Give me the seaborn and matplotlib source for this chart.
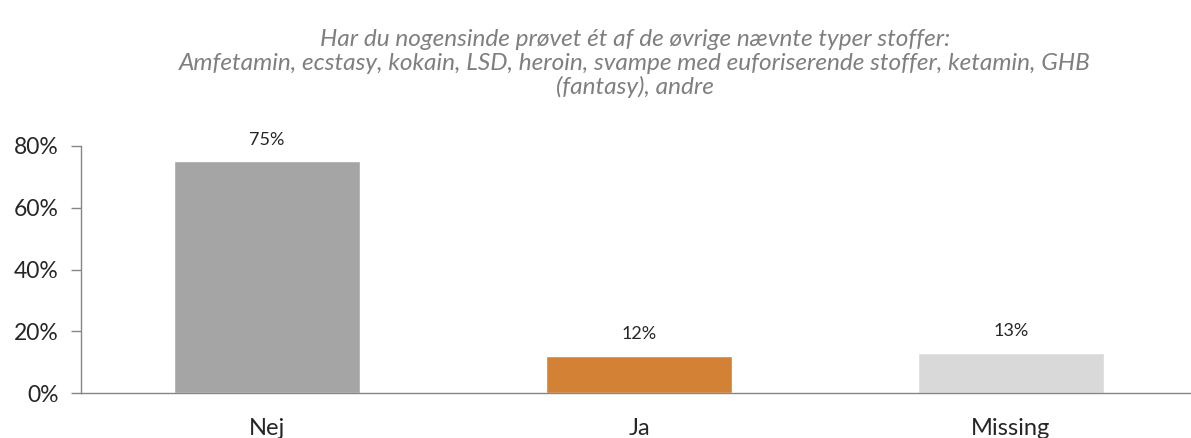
import matplotlib
matplotlib.use("Agg")
import matplotlib.pyplot as plt
import seaborn as sns
import pandas as pd
from matplotlib.ticker import PercentFormatter, FixedLocator

categories = ["Nej", "Ja", "Missing"]
shares = [0.75, 0.12, 0.13]
labels = ["75%", "12%", "13%"]
colors = ["#A5A5A5", "#D38235", "#D9D9D9"]
title_lines = [
    "Har du nogensinde prøvet ét af de øvrige nævnte typer stoffer:",
    "Amfetamin, ecstasy, kokain, LSD, heroin, svampe med euforiserende stoffer, ketamin, GHB",
    "(fantasy), andre",
]

df = pd.DataFrame({"kategori": categories, "andel": shares})

sns.set_style("white")
plt.rcParams["font.family"] = ["Lato", "DejaVu Sans"]

fig = plt.figure(figsize=(11.91, 4.38), dpi=100)
ax = fig.add_axes([81 / 1191, 1 - 393 / 438, 1116 / 1191, 247 / 438])

sns.barplot(data=df, x="kategori", y="andel", hue="kategori", palette=colors,
            width=0.5, legend=False, ax=ax, saturation=1)

for i, (v, lab) in enumerate(zip(shares, labels)):
    ax.text(i, v + 0.045, lab, ha="center", va="bottom", fontsize=13)

ax.set_xlim(-0.5, 2.5)
ax.set_ylim(0, 0.8)
ax.yaxis.set_major_locator(FixedLocator([0, 0.2, 0.4, 0.6, 0.8]))
ax.yaxis.set_major_formatter(PercentFormatter(1.0, decimals=0))
ax.set_xlabel("")
ax.set_ylabel("")

# tick marks between categories, labels centered
ax.set_xticks([-0.5, 0.5, 1.5], minor=True)
ax.tick_params(axis="x", which="minor", length=7, width=1, color="#868686", direction="out")
ax.tick_params(axis="x", which="major", length=0, labelsize=17, pad=18)
ax.tick_params(axis="y", which="major", length=7, width=1, color="#868686",
               labelsize=16.5, pad=9, left=True)

for side in ["top", "right"]:
    ax.spines[side].set_visible(False)
for side in ["left", "bottom"]:
    ax.spines[side].set_color("#868686")
    ax.spines[side].set_linewidth(1)

for y, line in zip([40, 63, 87], title_lines):
    fig.text(635 / 1191, 1 - y / 438, line, ha="center", va="center", fontsize=17.6,
             style="italic", color="#7F7F7F")

fig.savefig("out.png", dpi=100)
